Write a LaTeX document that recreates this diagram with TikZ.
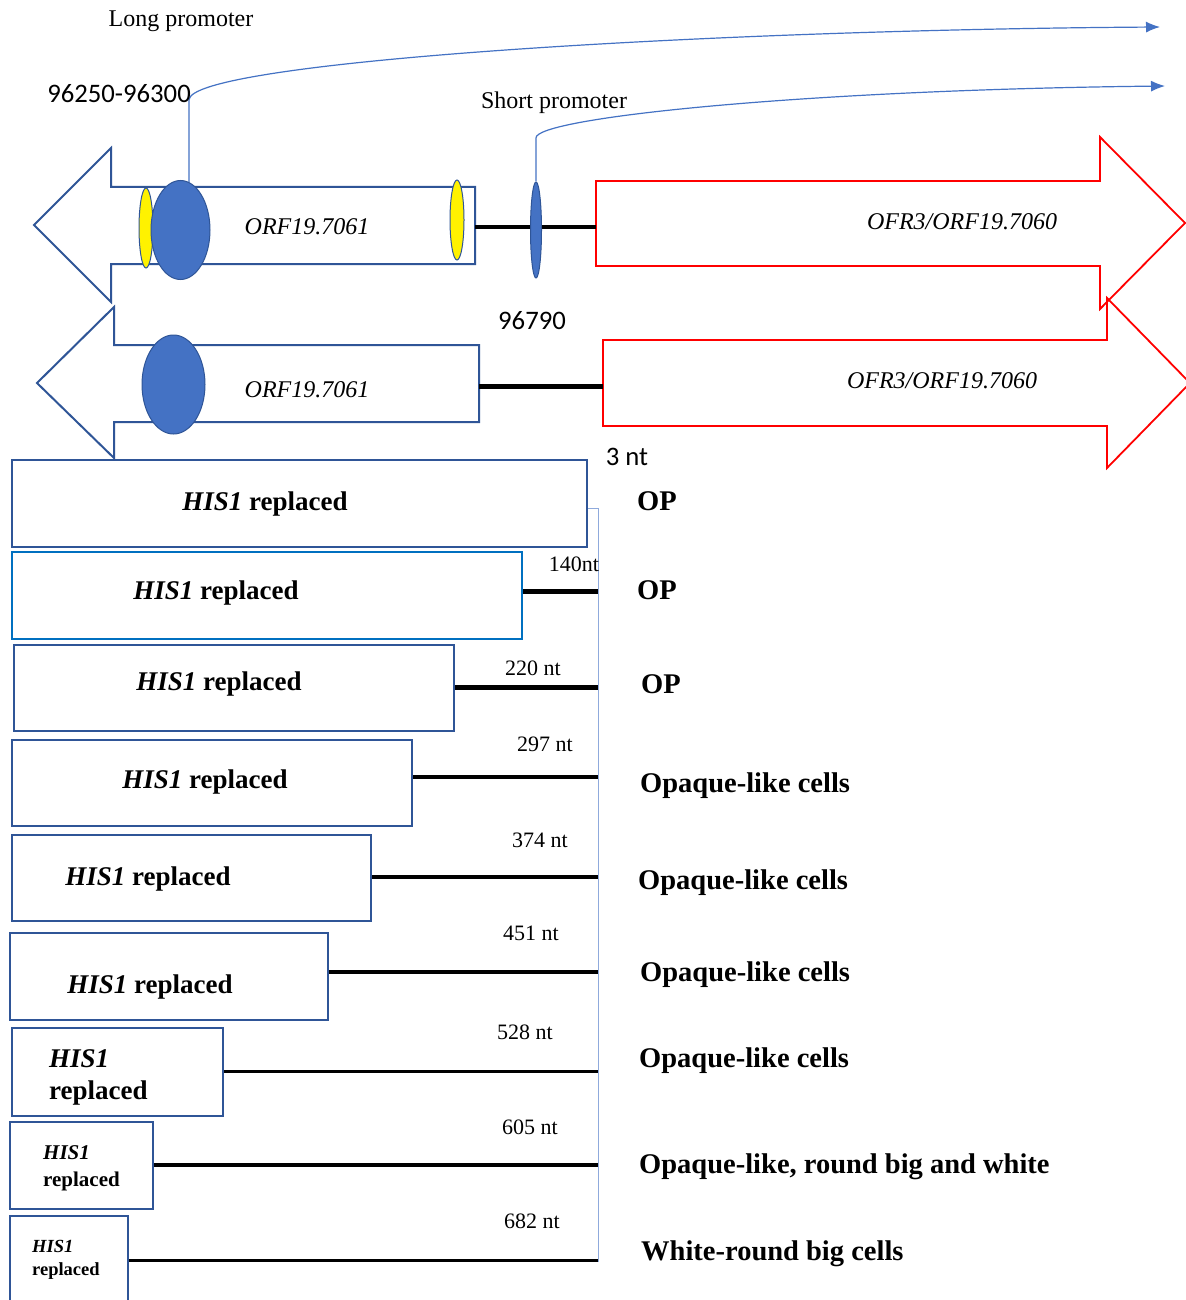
\documentclass[tikz,border=0pt]{standalone}
\usepackage{fontspec}
\setmainfont{Liberation Serif}
\newfontfamily\calibri{Carlito}
\usetikzlibrary{shapes.geometric,arrows.meta}
\definecolor{dkblue}{HTML}{2F5597}
\definecolor{midblue}{HTML}{4472C4}
\definecolor{boxblue}{HTML}{0070C0}
\definecolor{lineblue}{HTML}{8FAADC}
\newcommand{\fsz}[1]{\fontsize{#1}{#1}\selectfont}
\tikzset{
  genearrow/.style={draw=dkblue,line width=2pt,fill=white},
  redarrow/.style={draw=red,line width=1.8pt},
  blueell/.style={ellipse,draw=dkblue,fill=midblue,line width=1pt,inner sep=0pt},
  yellowell/.style={ellipse,draw=dkblue,fill=yellow,line width=1pt,inner sep=0pt},
  prom/.style={draw=midblue,line width=1.2pt,-{Latex[length=14pt,width=11pt]}},
  hisbox/.style={draw=dkblue,line width=2.8pt,inner sep=0pt},
  histext/.style={font=\bfseries\fsz{27},inner sep=0pt},
  phen/.style={font=\bfseries\fsz{28.5},inner sep=0pt,anchor=west},
  ntlab/.style={font=\fsz{22},inner sep=0pt},
  orflab/.style={font=\itshape\fsz{24},inner sep=0pt},
  sanslab/.style={font=\calibri\fsz{26.7},inner sep=0pt},
  conn/.style={draw=black},
}
\begin{document}
\begin{tikzpicture}[x=1pt,y=-1pt]
\useasboundingbox (0,0) rectangle (1185,1300);
\fill[white] (0,0) rectangle (1185,1300);
% ---------- row 1 ----------
\path[genearrow] (475,187) -- (111,187) -- (111,148) -- (34,225) -- (111,302) -- (111,264) -- (475,264) -- cycle;
\path[redarrow] (596,181) -- (1100,181) -- (1100,137) -- (1185,223) -- (1100,309) -- (1100,266) -- (596,266) -- cycle;
\node[yellowell,minimum width=14pt,minimum height=80pt] (y1) at (146,228) {};
\node[yellowell,minimum width=14pt,minimum height=80pt] (y2) at (457,220) {};
\node[blueell,minimum width=59pt,minimum height=99pt] (e1) at (180.5,230) {};
\coordinate (o1e) at (475,227);
\coordinate (r1w) at (596,227);
\draw[conn,line width=4pt] (o1e) -- (r1w);
\node[blueell,minimum width=11pt,minimum height=96pt] (e3) at (536,230) {};
\node[orflab] (orf1) at (307,227) {ORF19.7061};
\node[orflab] (ofr1) at (962,222) {OFR3/ORF19.7060};
% promoters
\coordinate (lpend) at (1160,27);
\coordinate (spend) at (1165,86);
\draw[prom] (e1.80) -- (e1.80 |- 0,100) .. controls (189,62) and (700,30) .. (lpend);
\draw[prom] (e3.north) -- (e3.north |- 0,138) .. controls (535,118) and (800,90) .. (spend);
\node[font=\fsz{24},inner sep=0pt] (lp) at (181,21) {Long promoter};
\node[font=\fsz{24},inner sep=0pt] (sp) at (554,103) {Short promoter};
\node[sanslab] (n1) at (119,94) {96250-96300};
% ---------- row 2 ----------
\path[redarrow] (603,340) -- (1107,340) -- (1107,298) -- (1190,383) -- (1107,468) -- (1107,426) -- (603,426) -- cycle;
\path[genearrow] (479,345) -- (114,345) -- (114,307) -- (37,383) -- (114,458) -- (114,422) -- (479,422) -- cycle;
\node[blueell,minimum width=63pt,minimum height=99pt] (e2) at (173.5,384.5) {};
\coordinate (o2e) at (479,386);
\coordinate (r2w) at (603,386);
\draw[conn,line width=5pt] (o2e) -- (r2w);
\node[orflab] (orf2) at (307,390) {ORF19.7061};
\node[orflab] (ofr2) at (942,381) {OFR3/ORF19.7060};
\node[sanslab] (n2) at (532,321) {96790};
\node[sanslab] (n3) at (627,457) {3 nt};
% ---------- deletion boxes ----------
\coordinate (vtop) at (598,508);
\coordinate (vbot) at (598,1262);
\draw[lineblue,line width=1pt] (vtop) -- (vbot);
\node[hisbox,minimum width=575pt,minimum height=87pt] (b1) at (299.5,503.5) {};
\node[hisbox,draw=boxblue,minimum width=510pt,minimum height=87pt] (b2) at (267,595.5) {};
\node[hisbox,minimum width=440pt,minimum height=86pt] (b3) at (234,688) {};
\node[hisbox,minimum width=400pt,minimum height=86pt] (b4) at (212,783) {};
\node[hisbox,minimum width=359pt,minimum height=86pt] (b5) at (191.5,878) {};
\node[hisbox,minimum width=318pt,minimum height=87pt] (b6) at (169,976.5) {};
\node[hisbox,minimum width=211pt,minimum height=88pt] (b7) at (117.5,1072) {};
\node[hisbox,minimum width=143pt,minimum height=87pt] (b8) at (81.5,1165.5) {};
\node[hisbox,minimum width=118pt,minimum height=96pt] (b9) at (69,1264) {};
% texts in boxes
\node[histext] at (265,504) {\textit{HIS1} replaced};
\node[histext] at (216,593) {\textit{HIS1} replaced};
\node[histext] at (219,684) {\textit{HIS1} replaced};
\node[histext] at (205,782) {\textit{HIS1} replaced};
\node[histext] at (148,879) {\textit{HIS1} replaced};
\node[histext] at (150,987) {\textit{HIS1} replaced};
\node[histext,anchor=west] at (49,1059) {\textit{HIS1}};
\node[histext,anchor=west] at (49,1093) {replaced};
\node[histext,font=\bfseries\fsz{21},anchor=west] at (43,1153) {\textit{HIS1}};
\node[histext,font=\bfseries\fsz{21},anchor=west] at (43,1181) {replaced};
\node[histext,font=\bfseries\fsz{18.5},anchor=west] at (32,1246) {\textit{HIS1}};
\node[histext,font=\bfseries\fsz{18.5},anchor=west] at (32,1271) {replaced};
% connectors
\draw[lineblue,line width=1pt] (b1.east |- vtop) -- (vtop);
\draw[conn,line width=5pt] (b2.east |- 0,591) -- (vtop |- 0,591);
\draw[conn,line width=5pt] (b3.east |- 0,687) -- (vtop |- 0,687);
\draw[conn,line width=3.5pt] (b4.east |- 0,777) -- (vtop |- 0,777);
\draw[conn,line width=3.5pt] (b5.east |- 0,877) -- (vtop |- 0,877);
\draw[conn,line width=3.5pt] (b6.east |- 0,972) -- (vtop |- 0,972);
\draw[conn,line width=3pt] (b7.east |- 0,1071) -- (vtop |- 0,1071);
\draw[conn,line width=3.5pt] (b8.east |- 0,1165) -- (vtop |- 0,1165);
\draw[conn,line width=3pt] (b9.east |- 0,1260) -- (vtop |- 0,1260);
% nt labels
\node[ntlab] at (574,564) {140nt};
\node[ntlab] at (533,668) {220 nt};
\node[ntlab] at (545,744) {297 nt};
\node[ntlab] at (540,840) {374 nt};
\node[ntlab] at (531,933) {451 nt};
\node[ntlab] at (525,1032) {528 nt};
\node[ntlab] at (530,1127) {605 nt};
\node[ntlab] at (532,1221) {682 nt};
% phenotypes
\node[phen] at (637,501) {OP};
\node[phen] at (637,590) {OP};
\node[phen] at (641,684) {OP};
\node[phen] at (640,786) {Opaque-like cells};
\node[phen] at (638,883) {Opaque-like cells};
\node[phen] at (640,975) {Opaque-like cells};
\node[phen] at (639,1061) {Opaque-like cells};
\node[phen] at (639,1167) {Opaque-like, round big and white};
\node[phen] at (641,1254) {White-round big cells};
\end{tikzpicture}
\end{document}
